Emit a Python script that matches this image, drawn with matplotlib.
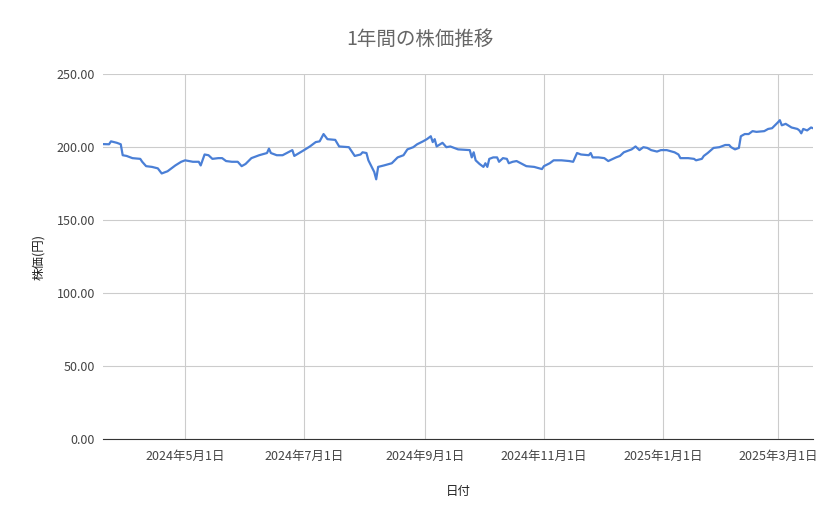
import matplotlib
matplotlib.use("Agg")
import matplotlib.pyplot as plt
import matplotlib.dates as mdates
import numpy as np
import datetime as dt

plt.rcParams['font.family'] = ['Noto Sans CJK JP', 'DejaVu Sans']

start_date = dt.date(2024, 3, 20)
day_offsets = [0,3,4,7,9,10,12,15,19,20,22,25,28,30,33,37,40,42,46,49,50,52,54,56,59,61,63,66,69,71,73,76,80,84,85,86,89,92,97,98,
               103,106,109,111,113,115,119,121,126,129,132,133,135,136,139,140,141,144,148,151,154,156,159,161,164,166,168,169,170,171,
               174,176,178,182,188,189,190,191,193,195,196,197,198,200,202,203,205,207,208,210,212,217,221,225,226,229,231,235,239,241,
               243,245,249,250,251,254,257,259,263,265,267,271,273,275,277,279,281,284,286,289,293,295,296,300,303,304,307,308,310,313,
               316,319,321,322,324,326,327,329,331,333,335,339,341,343,346,347,348,350,353,356,357,358,359,361,363,364]
prices = [202.1,202,204,203,202,194.5,194,192.5,192,190,187,186.5,185.5,182,183.5,187.5,190,191,190,190,187.5,195,194.5,192,192.5,192.5,190.5,190,190,187,188.5,192.5,194.5,196,199,196,194.5,194.5,198,194,
          198,200.5,203.5,204,209,205.5,205,200.5,200,194,195,196.5,196,191,183,178,186.5,187.5,189,193,194.5,198.5,200,202,204,205.5,207.5,203.5,205.5,200.5,
          203,200,200.5,198.5,198,193,196.5,191,188.5,186.5,189,186.5,192,193,193,190,192.5,192,189,190,190.5,187,186.5,185,187,189,191,191,190.5,190,
          196,195,194.5,196,193,193,192.5,190.5,193,194,196.5,198.5,200.5,198,200,199.5,198,197,198,198,196.5,195,192.5,192.5,192,191,192,194,196,199.5,
          200,201.5,201.5,200,198.5,199.5,207.5,209,209,211,210.5,211,212.5,213,217,218.5,215,216,213.5,212.5,211.5,209.5,212.5,211.5,213.5,213]
dates = [start_date + dt.timedelta(days=d) for d in day_offsets]

tick_dates = [dt.date(2024,5,1), dt.date(2024,7,1), dt.date(2024,9,1), dt.date(2024,11,1), dt.date(2025,1,1), dt.date(2025,3,1)]
tick_labels = ["2024年5月1日","2024年7月1日","2024年9月1日","2024年11月1日","2025年1月1日","2025年3月1日"]
y_ticks = [0, 50, 100, 150, 200, 250]

fig = plt.figure(figsize=(8.39, 5.19), dpi=100)
ax = fig.add_axes([0.123, 0.154, 0.846, 0.703])
ax.plot(dates, prices, color='#4a7fd6', linewidth=1.6)
ax.set_xlim(dates[0], dates[-1])
ax.set_ylim(0, 250)
ax.set_yticks(y_ticks)
ax.set_yticklabels([f"{v:.2f}" for v in y_ticks])
ax.set_xticks(tick_dates)
ax.set_xticklabels(tick_labels)
ax.grid(True, color='#cccccc', linewidth=0.8)
ax.set_axisbelow(True)
for s in ['top', 'right', 'left']:
    ax.spines[s].set_visible(False)
ax.spines['bottom'].set_color('#333333')
ax.tick_params(length=0, colors='#444444', labelsize=9)
ax.tick_params(axis='x', pad=8)
ax.tick_params(axis='y', pad=6)
ax.set_xlabel("日付", fontsize=9, color='#222222', labelpad=16)
ax.set_ylabel("株価(円)", fontsize=9, color='#222222', labelpad=8)
fig.suptitle("1年間の株価推移", x=0.5, y=0.945, fontsize=14, color='#666666')
fig.savefig("out.png", dpi=100)
